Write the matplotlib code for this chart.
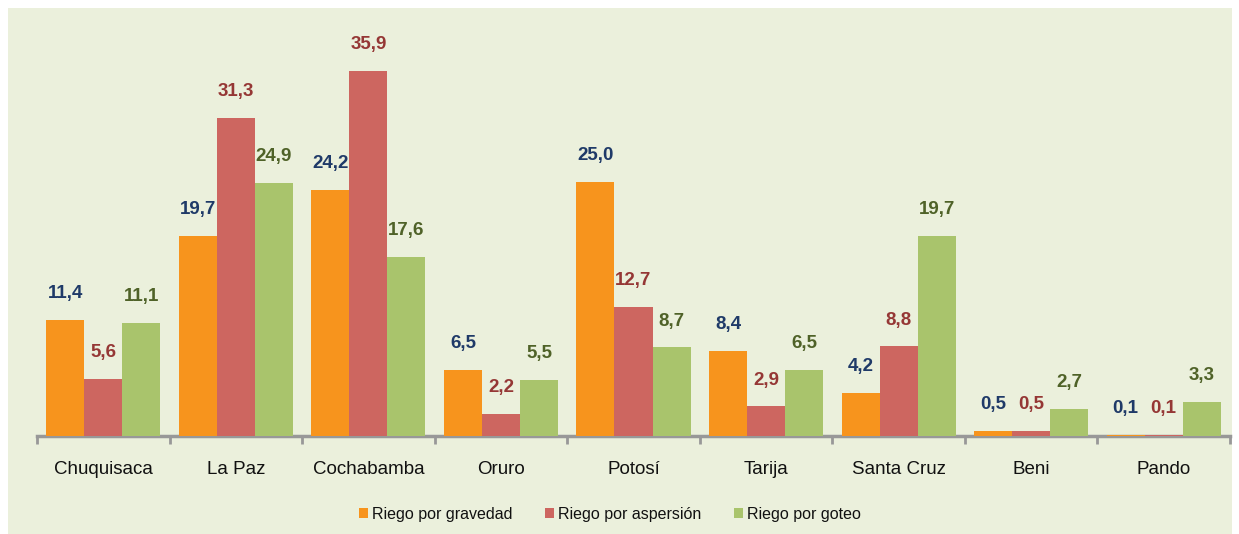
import matplotlib
matplotlib.use("Agg")
import matplotlib.pyplot as plt
import numpy as np

categories = ["Chuquisaca", "La Paz", "Cochabamba", "Oruro", "Potosí", "Tarija", "Santa Cruz", "Beni", "Pando"]
gravedad = [11.4, 19.7, 24.2, 6.5, 25.0, 8.4, 4.2, 0.5, 0.1]
aspersion = [5.6, 31.3, 35.9, 2.2, 12.7, 2.9, 8.8, 0.5, 0.1]
goteo = [11.1, 24.9, 17.6, 5.5, 8.7, 6.5, 19.7, 2.7, 3.3]
series_names = ["Riego por gravedad", "Riego por aspersión", "Riego por goteo"]

bar_colors = ["#F7941D", "#CD6660", "#A9C46C"]
label_colors = ["#1F3A68", "#953735", "#4F6228"]
bg = "#EBF0DC"

FONT = ["Liberation Sans", "DejaVu Sans"]
plt.rcParams['font.family'] = FONT

W, H = 1239, 534
fig = plt.figure(figsize=(W / 100, H / 100), dpi=100)
fig.patch.set_facecolor("white")

bg_ax = fig.add_axes([8 / W, 0, (1232 - 8) / W, (H - 8) / H], zorder=-10)
bg_ax.set_facecolor(bg)
bg_ax.set_xticks([])
bg_ax.set_yticks([])
for s in bg_ax.spines.values():
    s.set_visible(False)

ax_left, ax_right, ax_bottom, ax_top = 37, 1230, 436, 29
ax = fig.add_axes([ax_left / W, 1 - ax_bottom / H, (ax_right - ax_left) / W, (ax_bottom - ax_top) / H], zorder=1)
ax.set_facecolor("none")

x = np.arange(len(categories))
bw = 0.287
data = [gravedad, aspersion, goteo]
for i, (vals, c, lc, name) in enumerate(zip(data, bar_colors, label_colors, series_names)):
    pos = x + (i - 1) * bw
    ax.bar(pos, vals, width=bw, color=c, label=name, zorder=3, linewidth=0)
    for p, v in zip(pos, vals):
        ax.text(p, v + 2.6, f"{v:.1f}".replace(".", ","), ha="center", va="center",
                color=lc, fontsize=13.5, fontweight="bold", family=FONT)

ax.set_xlim(-0.5, len(categories) - 0.5)
ax.set_ylim(0, 40)
ax.set_yticks([])
for s in ["left", "right", "top"]:
    ax.spines[s].set_visible(False)
ax.spines["bottom"].set_color("#989898")
ax.spines["bottom"].set_linewidth(2.5)
ax.spines["bottom"].set_zorder(2)

ax.set_xticks(np.arange(-0.5, len(categories) + 0.5, 1))
ax.set_xticklabels([])
ax.tick_params(axis="x", length=6, width=2, color="#989898", direction="out")
ax.set_xticks(x, minor=True)
ax.set_xticklabels(categories, minor=True, fontsize=13.5, color="#111111")
ax.tick_params(axis="x", which="minor", length=0, pad=18)

handles, labels = ax.get_legend_handles_labels()
leg = fig.legend(handles, labels, loc="center", bbox_to_anchor=(610 / W, 1 - 514 / H), ncol=3, frameon=False,
                 fontsize=11.5, handlelength=0.6, handleheight=0.6, handletextpad=0.25, columnspacing=2.0)
for t in leg.get_texts():
    t.set_color("#111111")

fig.savefig("out.png", dpi=100, facecolor="white")
